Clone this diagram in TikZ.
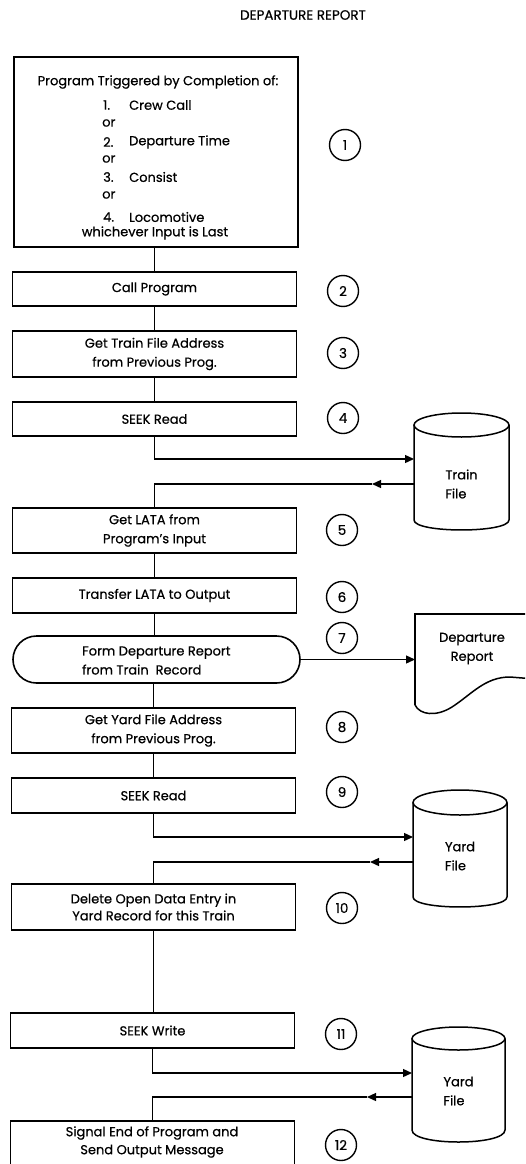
\documentclass[tikz,border=0pt]{standalone}
\usepackage{fontspec}
\setmainfont{Poppins}[FakeBold=0.6]
\usetikzlibrary{arrows.meta,shapes.misc}
\tikzset{
  box/.style={draw,line width=1.6pt,rectangle,inner sep=0pt,outer sep=0pt,minimum width=284pt,align=center,font=\fsz},
  term/.style={draw,line width=1.6pt,rounded rectangle,inner sep=0pt,outer sep=0pt,align=left,font=\fsz},
  num/.style={draw,line width=1.4pt,circle,minimum size=31pt,inner sep=0pt,font=\fontsize{13.5}{19}\selectfont},
  txt/.style={inner sep=0pt,font=\fsz},
  area/.style={inner sep=0pt,outer sep=0pt,minimum height=36pt,align=left,font=\fsz},
  conn/.style={line width=1.3pt},
  arr/.style={line width=1.3pt,-{Triangle[length=9pt,width=8pt]}},
  shapeline/.style={line width=1.5pt}
}
\newcommand{\fsz}{\fontsize{13}{19}\selectfont}
\begin{document}
\begin{tikzpicture}[x=1pt,y=-1pt]
\useasboundingbox (0,0) rectangle (525,1164);
\clip (0,0) rectangle (525,1164);
% title
\node[txt,font=\fontsize{13.5}{16}\selectfont] (title) at (303,15) {DEPARTURE REPORT};
% box 1
\node[box,minimum height=190pt] (b1) at (156,152) {};
\node[txt] (t1) at (158,82) {Program Triggered by Completion of:};
\node[txt,anchor=west] (n1) at (103,105) {1.};
\node[txt,anchor=west] (i1) at (129,105) {Crew Call};
\node[txt,anchor=west] (o1) at (102,123) {or};
\node[txt,anchor=west] (n2) at (103,142) {2.};
\node[txt,anchor=west] (i2) at (129,142) {Departure Time};
\node[txt,anchor=west] (o2) at (102,159) {or};
\node[txt,anchor=west] (n3) at (103,177) {3.};
\node[txt,anchor=west] (i3) at (129,177) {Consist};
\node[txt,anchor=west] (o3) at (102,195) {or};
\node[txt,anchor=west] (n4) at (103,217) {4.};
\node[txt,anchor=west] (i4) at (129,217) {Locomotive};
\node[txt] (t2) at (155,233) {whichever Input is Last};
% boxes
\node[box,minimum height=34pt] (b2) at (154.5,289) {Call Program};
\node[box,minimum height=46pt] (b3) at (154.5,354) {Get Train File Address\\from Previous Prog.};
\node[box,minimum height=34pt] (b4) at (154.5,419) {SEEK Read};
\node[box,minimum height=45pt] (b5) at (154.5,530.5) {Get LATA from\\Program's Input};
\node[box,minimum height=35pt] (b6) at (154.5,595.5) {Transfer LATA to Output};
\node[term,minimum width=287pt,minimum height=47pt] (b7) at (156.5,659.5) {};
\node[txt,anchor=west,align=left] (t7) at (82,660.5) {Form Departure Report\\from Train\ \ Record};
\node[box,minimum height=45pt] (b8) at (153.5,730.5) {Get Yard File Address\\from Previous Prog.};
\node[box,minimum height=35pt] (b9) at (153.5,795.5) {SEEK Read};
\node[box,minimum height=46pt,font=\fontsize{13}{17}\selectfont] (b10) at (153.5,907) {Delete Open Data Entry in\\Yard Record for this Train};
\node[box,minimum height=35pt] (b11) at (152.5,1030.5) {SEEK Write};
\node[box,minimum height=49pt,text depth=0pt] (b12) at (152.5,1145.5) {};
\node[txt,align=center,font=\fontsize{13}{18}\selectfont] (t12) at (152,1142) {Signal End of Program and\\Send Output Message};
% numbers
\node[num] (c1) at (345,145) {1};
\node[num] (c2) at (343,291) {2};
\node[num] (c3) at (343,353) {3};
\node[num] (c4) at (343,418) {4};
\node[num] (c5) at (342,530) {5};
\node[num] (c6) at (342,597) {6};
\node[num] (c7) at (342,638) {7};
\node[num] (c8) at (342,727) {8};
\node[num] (c9) at (342,792) {9};
\node[num] (c10) at (342,908) {10};
\node[num] (c11) at (341,1034) {11};
\node[num] (c12) at (341,1145) {12};
% train file cylinder
\draw[shapeline] (461.5,425) ellipse [x radius=47.5pt, y radius=12pt];
\draw[shapeline] (414,425) -- (414,520) .. controls (414,533.3) and (509,533.3) .. (509,520) -- (509,425);
\node[area,minimum width=95pt] (tf) at (461.5,484) {Train\\File};
% departure report document
\draw[shapeline] (415,705) -- (415,614) -- (535,614);
\draw[shapeline] (415,705) .. controls (420,715) and (436,717) .. (452,707) .. controls (472,694) and (485,677) .. (510,677) -- (535,679);
\node[area,minimum width=114pt,align=center] (dr) at (472,648.5) {Departure\\Report};
% yard file 1
\draw[shapeline] (460,802.5) ellipse [x radius=47pt, y radius=12.5pt];
\draw[shapeline] (413,802.5) -- (413,897) .. controls (413,910.3) and (507,910.3) .. (507,897) -- (507,802.5);
\node[area,minimum width=94pt] (yf1) at (460,856) {Yard\\File};
% yard file 2
\draw[shapeline] (458.5,1038.5) ellipse [x radius=46.5pt, y radius=11.5pt];
\draw[shapeline] (412,1038.5) -- (412,1130) .. controls (412,1146) and (505,1146) .. (505,1130) -- (505,1038.5);
\node[area,minimum width=93pt] (yf2) at (458.5,1091) {Yard\\File};
% connectors
\draw[conn] (b1.south -| b2.north) -- (b2.north);
\draw[conn] (b2) -- (b3);
\draw[conn] (b3) -- (b4);
\coordinate (k4) at (154.5,459);
\draw[arr] (b4.south) -- (k4) -- (k4 -| tf.west);
\coordinate (r4) at (372,484);
\draw[arr] (tf.west |- r4) -- (r4);
\draw[conn] (r4) -| (b5.north);
\draw[conn] (b5) -- (b6);
\draw[conn] (b6.south) -- (b6.south |- b7.north);
\draw[arr] (b7.east) -- (b7.east -| dr.west);
\draw[conn] (b8.north |- b7.south) -- (b8.north);
\draw[conn] (b8) -- (b9);
\coordinate (k9) at (153.5,837);
\draw[arr] (b9.south) -- (k9) -- (k9 -| yf1.west);
\coordinate (r9) at (370,862);
\draw[arr] (yf1.west |- r9) -- (r9);
\draw[conn] (r9) -| (b10.north);
\draw[conn] (b10.south) -- (b10.south |- b11.north);
\coordinate (k11) at (152.5,1073);
\draw[arr] (b11.south) -- (k11) -- (k11 -| yf2.west);
\coordinate (r11) at (367,1097);
\draw[arr] (yf2.west |- r11) -- (r11);
\draw[conn] (r11) -| (b12.north);
\end{tikzpicture}
\end{document}
